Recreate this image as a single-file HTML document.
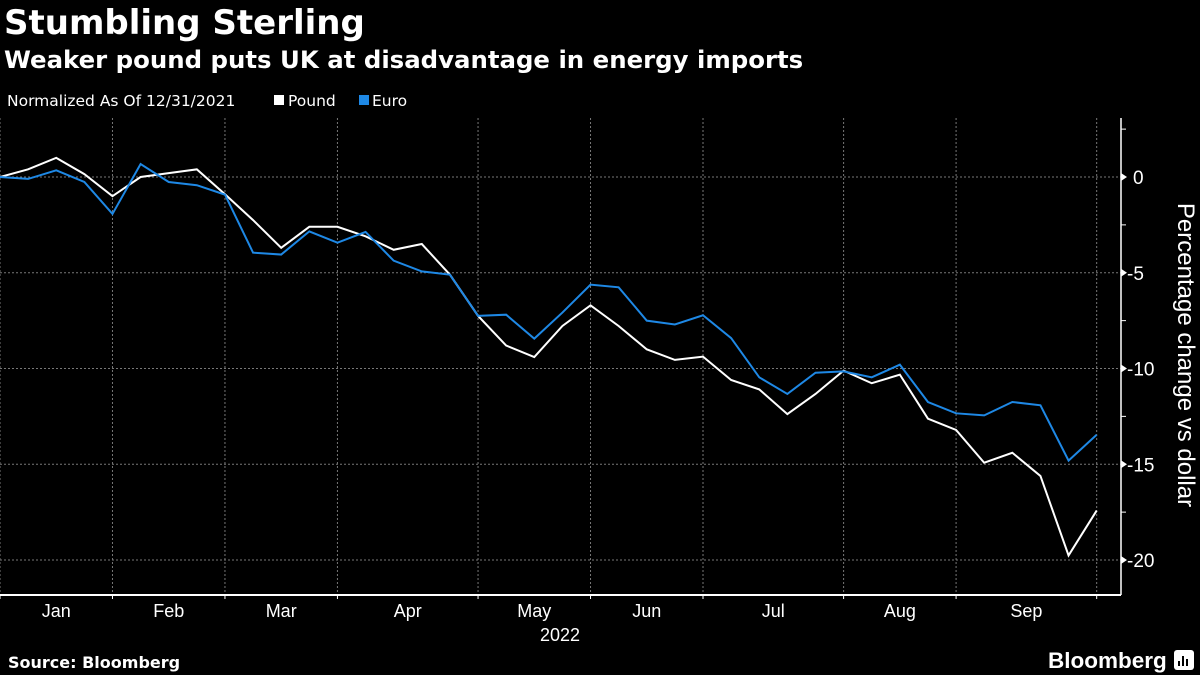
<!DOCTYPE html>
<html><head><meta charset="utf-8">
<style>
body{margin:0;background:#000;width:1200px;height:675px;overflow:hidden;font-family:"Liberation Sans","DejaVu Sans",sans-serif;color:#fff}
svg{position:absolute;left:0;top:0}
</style></head>
<body>
<svg width="1200" height="675">
<text x="4" y="34" font-size="34" font-weight="bold" fill="#fff" font-family="DejaVu Sans, sans-serif">Stumbling Sterling</text>
<text x="4" y="68" font-size="24.4" font-weight="bold" fill="#fff" font-family="DejaVu Sans, sans-serif">Weaker pound puts UK at disadvantage in energy imports</text>
<g font-size="15.5" fill="#fff" font-family="DejaVu Sans, sans-serif">
<text x="7" y="106">Normalized As Of 12/31/2021</text>
<rect x="274" y="95" width="10" height="10" fill="#fff"/>
<text x="288" y="106">Pound</text>
<rect x="359" y="95" width="10" height="10" fill="#1e88e5"/>
<text x="372" y="106">Euro</text>
</g>
<g id="grid"></g>
<g id="axes"></g>
<g id="series"></g>
<text transform="translate(1178,355) rotate(90)" text-anchor="middle" font-size="24" fill="#fff">Percentage change vs dollar</text>
<text x="8" y="668" font-size="16" font-weight="bold" fill="#fff" font-family="DejaVu Sans, sans-serif">Source: Bloomberg</text>
<text x="1048" y="668" font-size="22.5" font-weight="bold" fill="#fff">Bloomberg</text>
<g><rect x="1174" y="650" width="20" height="20" rx="3" fill="#fff"/><path d="M1179 666v-5M1183 666v-10M1187 666v-7" stroke="#000" stroke-width="2"/></g>
</svg>
<script>
const pound=[0,0.4,1.0,0.15,-1.0,0,0.2,0.4,-0.9,-2.25,-3.7,-2.6,-2.6,-3.1,-3.8,-3.5,-5.1,-7.25,-8.8,-9.4,-7.78,-6.7,-7.78,-9.0,-9.55,-9.38,-10.6,-11.09,-12.38,-11.33,-10.11,-10.77,-10.32,-12.62,-13.21,-14.92,-14.4,-15.61,-19.76,-17.42];
const euro=[0,-0.1,0.35,-0.26,-1.93,0.68,-0.26,-0.43,-0.92,-3.95,-4.05,-2.84,-3.43,-2.87,-4.37,-4.93,-5.1,-7.25,-7.19,-8.44,-7.08,-5.62,-5.76,-7.5,-7.7,-7.22,-8.41,-10.46,-11.33,-10.22,-10.15,-10.46,-9.8,-11.75,-12.34,-12.45,-11.75,-11.92,-14.81,-13.46];
const monthStarts=[0,4,8,12,17,21,25,30,34,39];
const monthLabels=["Jan","Feb","Mar","Apr","May","Jun","Jul","Aug","Sep"];
const yTicks=[0,-5,-10,-15,-20];
const yMinor=[2.5,-2.5,-7.5,-12.5,-17.5];
const NS="http://www.w3.org/2000/svg";
const X=i=>i*28.12;
const Y=v=>177-v*19.15;
function mk(t,a,p){const e=document.createElementNS(NS,t);for(const k in a)e.setAttribute(k,a[k]);p.appendChild(e);return e;}
const grid=document.getElementById('grid'),axes=document.getElementById('axes'),ser=document.getElementById('series');
yTicks.forEach(v=>{
 const l=mk('line',{x1:0,x2:1121,y1:Y(v),y2:Y(v),stroke:'#777','stroke-dasharray':'2,2','stroke-width':1},grid);
 
 
 const tk=mk('path',{d:`M1121 ${Y(v)-4}L1127 ${Y(v)}L1121 ${Y(v)+4}Z`,fill:'#fff'},axes);
 
 
 const t=mk('text',{x:v===0?1133:1127,y:Y(v)+7,'font-size':19,fill:'#fff'},axes);
 t.textContent=v===0?'0':'-'+Math.abs(v);
 
 
});
yMinor.forEach(v=>{
 const l=mk('line',{x1:1121,x2:1126,y1:Y(v),y2:Y(v),stroke:'#fff','stroke-width':1},axes);
 
 
});
monthStarts.forEach(i=>{
 const l=mk('line',{x1:X(i),x2:X(i),y1:118,y2:595,stroke:'#777','stroke-dasharray':'2,2','stroke-width':1},grid);
 
 
 const tk=mk('line',{x1:X(i),x2:X(i),y1:595,y2:599,stroke:'#fff','stroke-width':1},axes);
 
 
});
monthLabels.forEach((m,k)=>{
 const t=mk('text',{x:(X(monthStarts[k])+X(monthStarts[k+1]))/2,y:617,'font-size':18,fill:'#fff','text-anchor':'middle'},axes);
 t.textContent=m;
 
 
});
const yr=mk('text',{x:560,y:641,'font-size':18,fill:'#fff','text-anchor':'middle'},axes);
yr.textContent='2022';


const ax=mk('line',{x1:0,x2:1121,y1:595,y2:595,stroke:'#fff','stroke-width':2},axes);


const ay=mk('line',{x1:1121,x2:1121,y1:118,y2:595,stroke:'#fff','stroke-width':1.5},axes);


function line(d,c,n){
 const p=mk('polyline',{points:d.map((v,i)=>X(i)+','+Y(v)).join(' '),fill:'none',stroke:c,'stroke-width':2,'stroke-linejoin':'miter'},ser);
 
 
}
line(pound,'#ffffff','pound-line');
line(euro,'#1e88e5','euro-line');
</script>
</body></html>
